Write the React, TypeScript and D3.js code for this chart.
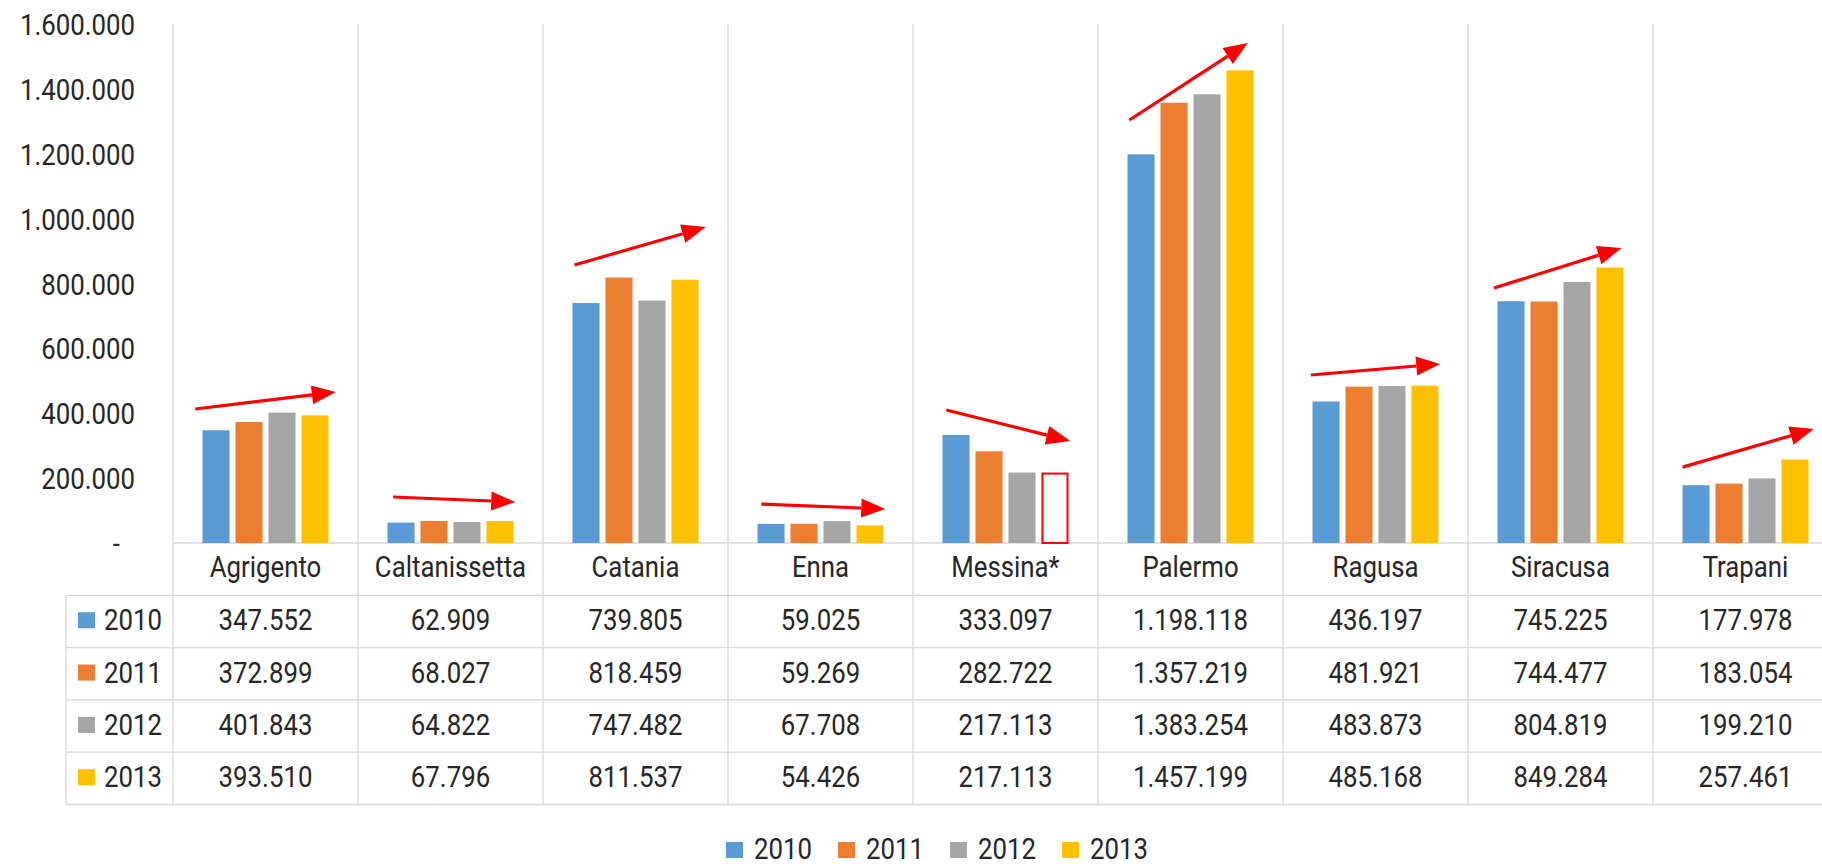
import React, { useEffect, useRef } from 'react';
import * as d3 from 'd3';

const categories = ['Agrigento', 'Caltanissetta', 'Catania', 'Enna', 'Messina*', 'Palermo', 'Ragusa', 'Siracusa', 'Trapani'];
const years = ['2010', '2011', '2012', '2013'];
const values2010 = [347552, 62909, 739805, 59025, 333097, 1198118, 436197, 745225, 177978];
const values2011 = [372899, 68027, 818459, 59269, 282722, 1357219, 481921, 744477, 183054];
const values2012 = [401843, 64822, 747482, 67708, 217113, 1383254, 483873, 804819, 199210];
const values2013 = [393510, 67796, 811537, 54426, 217113, 1457199, 485168, 849284, 257461];
const colors = ['#5B9BD5', '#ED7D31', '#A5A5A5', '#FFC000'];
const yTicks = [0, 200000, 400000, 600000, 800000, 1000000, 1200000, 1400000, 1600000];
// the Messina 2013 figure is a repeat of 2012, drawn hollow
const hollowBars = [{ category: 'Messina*', year: '2013' }];

// trend arrows: start/end as fraction of the category band and value
const arrowFromPos = [0.12, 0.19, 0.17, 0.18, 0.18, 0.17, 0.15, 0.14, 0.16];
const arrowToPos = [0.88, 0.85, 0.88, 0.85, 0.85, 0.81, 0.85, 0.83, 0.87];
const arrowFromValue = [413000, 141800, 857000, 120000, 410000, 1304000, 518000, 786000, 234000];
const arrowToValue = [465500, 126400, 974000, 105000, 314500, 1541500, 552000, 909500, 351500];

const series = [values2010, values2011, values2012, values2013];

const FONT = "'Roboto', sans-serif";
const FONT_SIZE = 30;
const NARROW = 0.86; // no condensed face installed, squeeze Roboto instead
const TEXT = '#262626';
const GRID = '#D9D9D9';

const itLocale = d3.formatLocale({ decimal: ',', thousands: '.', grouping: [3], currency: ['€', ''] });
const fmt = itLocale.format(',d');

const at = (x: number, y: number) => 'translate(' + x + ',' + y + ') scale(' + NARROW + ',1)';

export default function App() {
  const ref = useRef<SVGSVGElement>(null);

  useEffect(() => {
    document.body.style.margin = '0';
    const svg = d3.select(ref.current);
    svg.selectAll('*').remove();

    const width = 1822;
    const height = 867;
    const left = 173;
    const tableLeft = 66;
    const top = 24;
    const baseline = 543;
    const rowH = 52.3;
    const tableBottom = baseline + rowH * 5;

    const x0 = d3
      .scaleBand()
      .domain(categories)
      .range([left, left + 185 * categories.length])
      .paddingInner(0.319)
      .paddingOuter(0.1595);
    const x1 = d3.scaleBand().domain(years).range([0, x0.bandwidth()]).paddingInner(0.18);
    const y = d3.scaleLinear().domain([0, 1600000]).range([baseline, top]);
    const step = x0.step();
    const catStart = (c: string) => (x0(c) as number) - (step - x0.bandwidth()) / 2;

    svg.attr('width', width).attr('height', height);

    // vertical grid (category separators, through the table)
    const seps = categories.map((c) => catStart(c)).concat([catStart(categories[categories.length - 1]) + step]);
    svg
      .append('g')
      .selectAll('line')
      .data(seps)
      .join('line')
      .attr('x1', (d) => d)
      .attr('x2', (d) => d)
      .attr('y1', top)
      .attr('y2', tableBottom)
      .attr('stroke', GRID)
      .attr('stroke-width', 1.3);

    // horizontal table lines
    const hLines = d3.range(6).map((i) => ({ y: baseline + i * rowH, x: i === 0 ? left : tableLeft }));
    svg
      .append('g')
      .selectAll('line')
      .data(hLines)
      .join('line')
      .attr('x1', (d) => d.x)
      .attr('x2', width)
      .attr('y1', (d) => d.y)
      .attr('y2', (d) => d.y)
      .attr('stroke', GRID)
      .attr('stroke-width', 1.3);
    svg
      .append('line')
      .attr('x1', tableLeft)
      .attr('x2', tableLeft)
      .attr('y1', baseline + rowH)
      .attr('y2', tableBottom)
      .attr('stroke', GRID)
      .attr('stroke-width', 1.3);

    // y axis labels
    svg
      .append('g')
      .selectAll('text')
      .data(yTicks)
      .join('text')
      .attr('transform', (d) => at(d === 0 ? 120 : 135, y(d) + 11))
      .attr('text-anchor', 'end')
      .attr('font-family', FONT)
      .attr('font-size', FONT_SIZE)
      .attr('fill', TEXT)
      .text((d) => (d === 0 ? '-' : fmt(d)));

    // bars
    const bars = categories.flatMap((c, ci) =>
      years.map((yr, si) => ({
        category: c,
        year: yr,
        value: series[si][ci],
        color: colors[si],
        hollow: hollowBars.some((h) => h.category === c && h.year === yr),
      }))
    );
    svg
      .append('g')
      .selectAll('rect')
      .data(bars)
      .join('rect')
      .attr('x', (d) => (x0(d.category) as number) + (x1(d.year) as number) + (d.hollow ? 1 : 0))
      .attr('y', (d) => y(d.value) + (d.hollow ? 1 : 0))
      .attr('width', (d) => x1.bandwidth() - (d.hollow ? 2 : 0))
      .attr('height', (d) => baseline - y(d.value) - (d.hollow ? 1 : 0))
      .attr('fill', (d) => (d.hollow ? '#ffffff' : d.color))
      .attr('stroke', (d) => (d.hollow ? '#FF0000' : 'none'))
      .attr('stroke-width', 2);

    // trend arrows
    const arrows = categories.map((c, i) => {
      const sx = catStart(c) + arrowFromPos[i] * step;
      const ex = catStart(c) + arrowToPos[i] * step;
      const sy = y(arrowFromValue[i]);
      const ey = y(arrowToValue[i]);
      const len = Math.hypot(ex - sx, ey - sy);
      const ux = (ex - sx) / len;
      const uy = (ey - sy) / len;
      const hl = 24;
      const hw = 9.5;
      const bx = ex - ux * hl;
      const by = ey - uy * hl;
      return {
        sx,
        sy,
        bx,
        by,
        head: [
          [ex, ey],
          [bx - uy * hw, by + ux * hw],
          [bx + uy * hw, by - ux * hw],
        ],
      };
    });
    const ag = svg.append('g');
    ag.selectAll('line')
      .data(arrows)
      .join('line')
      .attr('x1', (d) => d.sx)
      .attr('y1', (d) => d.sy)
      .attr('x2', (d) => d.bx)
      .attr('y2', (d) => d.by)
      .attr('stroke', '#FF0000')
      .attr('stroke-width', 3.2);
    ag.selectAll('polygon')
      .data(arrows)
      .join('polygon')
      .attr('points', (d) => d.head.map((p) => p.join(',')).join(' '))
      .attr('fill', '#FF0000');

    // category labels
    svg
      .append('g')
      .selectAll('text')
      .data(categories)
      .join('text')
      .attr('transform', (d) => at(catStart(d) + step / 2, baseline + 34))
      .attr('text-anchor', 'middle')
      .attr('font-family', FONT)
      .attr('font-size', FONT_SIZE)
      .attr('fill', TEXT)
      .text((d) => d);

    // data table rows
    years.forEach((yr, si) => {
      const rowTop = baseline + rowH * (si + 1);
      const row = svg.append('g');
      row
        .append('rect')
        .attr('x', 78)
        .attr('y', rowTop + 17)
        .attr('width', 17)
        .attr('height', 16)
        .attr('fill', colors[si]);
      row
        .append('text')
        .attr('transform', at(104, rowTop + 35))
        .attr('font-family', FONT)
        .attr('font-size', FONT_SIZE)
        .attr('fill', TEXT)
        .text(yr);
      row
        .selectAll('text.val')
        .data(series[si])
        .join('text')
        .attr('class', 'val')
        .attr('transform', (d, i) => at(catStart(categories[i]) + step / 2, rowTop + 35))
        .attr('text-anchor', 'middle')
        .attr('font-family', FONT)
        .attr('font-size', FONT_SIZE)
        .attr('fill', TEXT)
        .text((d) => fmt(d));
    });

    // legend
    const legend = svg
      .append('g')
      .selectAll('g')
      .data(years)
      .join('g')
      .attr('transform', (d, i) => 'translate(' + (726 + i * 112) + ',0)');
    legend
      .append('rect')
      .attr('x', 0)
      .attr('y', 842)
      .attr('width', 17)
      .attr('height', 16)
      .attr('fill', (d, i) => colors[i]);
    legend
      .append('text')
      .attr('transform', at(28, 859))
      .attr('font-family', FONT)
      .attr('font-size', FONT_SIZE)
      .attr('fill', TEXT)
      .text((d) => d);
  }, []);

  return <svg ref={ref} style={{ display: 'block' }} />;
}
